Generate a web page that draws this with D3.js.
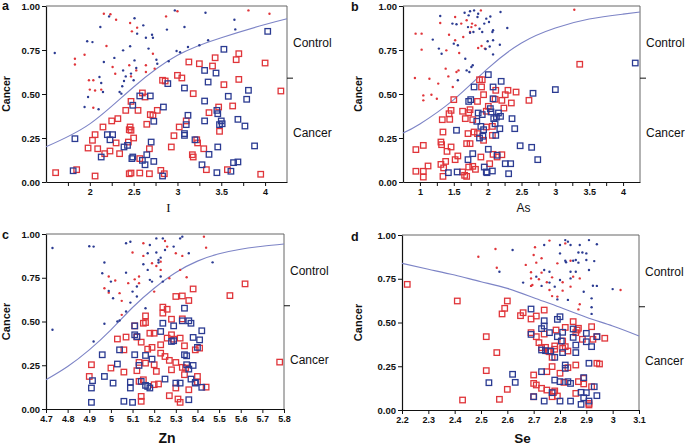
<!DOCTYPE html>
<html><head><meta charset="utf-8">
<script src="https://cdn.jsdelivr.net/npm/d3@7"></script>
<style>body{margin:0;background:#fff;} svg{display:block;} text{font-family:"Liberation Sans",Arial,sans-serif;}</style>
</head><body><svg id="chart" width="685" height="445"></svg>
<script>
// ---------- shared ticks ----------
const yTicks = [0, 0.25, 0.5, 0.75, 1];
const yTickLabels = ["0.00", "0.25", "0.50", "0.75", "1.00"];
const groupLabels = ["Control", "Cancer"];
const groupLabelPos = [0.79, 0.28];
const groupDivider = 0.59;

// ---------- panel a (I) ----------
const aXTicks = [1.75, 2, 2.25, 2.5, 2.75, 3, 3.25, 3.5, 3.75, 4];
const aXTickLabels = ["", "2", "", "2.5", "", "3", "", "3.5", "", "4"];
const aControlRed = [[2.16,0.956],[2.235,0.953],[2.30,0.922],[2.46,0.903],[2.54,0.877],[2.48,0.856],[2.87,0.941],[3.0,0.97],[3.81,0.975],[4.05,0.956],[2.19,0.773],[1.83,0.70],[1.83,0.668],[1.94,0.723],[2.26,0.653],[2.29,0.615],[2.45,0.663],[2.53,0.634],[2.64,0.663],[2.64,0.625],[2.72,0.729],[2.74,0.644],[1.99,0.578],[2.04,0.578],[2.0,0.525],[2.06,0.52],[2.13,0.525],[2.04,0.422],[2.47,0.60]];
const aControlBlue = [[1.60,0.733],[1.97,0.80],[2.03,0.795],[2.12,0.881],[2.22,0.941],[2.51,0.93],[2.61,0.89],[2.54,0.843],[2.71,0.837],[2.72,0.82],[2.64,0.82],[2.88,0.866],[2.97,0.975],[3.08,0.881],[3.32,0.962],[3.65,0.922],[3.66,0.867],[3.35,0.805],[3.25,0.777],[3.12,0.767],[2.99,0.744],[3.03,0.737],[2.90,0.686],[2.76,0.695],[2.77,0.672],[2.67,0.758],[2.46,0.771],[2.38,0.748],[2.16,0.682],[2.28,0.705],[2.11,0.597],[2.13,0.5625],[2.15,0.511],[1.98,0.483],[1.94,0.426],[2.10,0.413],[2.38,0.634],[2.41,0.60],[2.39,0.574],[2.50,0.578],[2.53,0.648],[2.51,0.691],[2.34,0.511],[2.36,0.502],[2.37,0.544],[2.47,0.616]];
const aCancerRed = [[1.61,0.053],[1.85,0.07],[2.06,0.034],[1.98,0.193],[2.03,0.237],[2.06,0.269],[2.09,0.189],[2.15,0.3125],[2.17,0.161],[2.23,0.176],[2.25,0.347],[2.30,0.222],[2.32,0.36],[2.34,0.161],[2.41,0.407],[2.44,0.227],[2.45,0.297],[2.46,0.3125],[2.47,0.458],[2.47,0.294],[2.45,0.047],[2.47,0.051],[2.50,0.25],[2.55,0.407],[2.57,0.133],[2.57,0.051],[2.60,0.506],[2.63,0.483],[2.65,0.328],[2.68,0.189],[2.68,0.047],[2.69,0.383],[2.72,0.379],[2.77,0.407],[2.83,0.578],[2.86,0.574],[2.81,0.066],[2.85,0.047],[2.93,0.199],[2.96,0.263],[3.0,0.606],[3.05,0.591],[3.02,0.3125],[3.10,0.347],[3.13,0.682],[3.18,0.502],[3.17,0.155],[3.18,0.142],[3.22,0.24],[3.23,0.222],[3.25,0.672],[3.30,0.189],[3.33,0.07],[3.36,0.394],[3.40,0.659],[3.43,0.706],[3.47,0.426],[3.48,0.288],[3.53,0.553],[3.63,0.432],[3.67,0.695],[3.70,0.729],[3.70,0.583],[3.57,0.07],[3.95,0.044],[4.0,0.676],[4.18,0.517]];
const aCancerBlue = [[1.81,0.064],[1.83,0.246],[2.13,0.142],[2.20,0.269],[2.23,0.24],[2.26,0.269],[2.39,0.199],[2.43,0.208],[2.48,0.133],[2.49,0.142],[2.49,0.436],[2.57,0.489],[2.60,0.123],[2.63,0.098],[2.65,0.155],[2.69,0.489],[2.70,0.227],[2.73,0.117],[2.73,0.345],[2.84,0.426],[2.83,0.034],[2.89,0.559],[3.08,0.534],[3.08,0.275],[3.08,0.265],[3.10,0.326],[3.12,0.379],[3.20,0.24],[3.28,0.098],[3.31,0.347],[3.31,0.46],[3.31,0.634],[3.35,0.568],[3.36,0.157],[3.44,0.619],[3.45,0.407],[3.46,0.388],[3.46,0.199],[3.45,0.053],[3.48,0.326],[3.50,0.347],[3.51,0.331],[3.53,0.754],[3.58,0.487],[3.61,0.061],[3.64,0.11],[3.69,0.114],[3.69,0.356],[3.77,0.318],[3.79,0.47],[3.81,0.521],[3.88,0.205],[4.03,0.856]];
const aCurve = [[1.5,0.20],[2.0,0.33],[2.5,0.54],[3.0,0.72],[3.5,0.82],[4.0,0.895],[4.25,0.928]];

// ---------- panel b (As) ----------
const bXTicks = [1, 1.25, 1.5, 1.75, 2, 2.25, 2.5, 2.75, 3, 3.25, 3.5, 3.75, 4];
const bXTickLabels = ["1", "", "1.5", "", "2", "", "2.5", "", "3", "", "3.5", "", "4"];
const bControlRed = [[0.936,0.843],[1.025,0.843],[1.025,0.752],[0.926,0.591],[1.05,0.492],[1.05,0.464],[1.14,0.587],[1.17,0.496],[1.25,0.473],[1.27,0.559],[1.30,0.903],[1.39,0.748],[1.38,0.644],[1.42,0.60],[1.43,0.837],[1.485,0.54],[1.52,0.9375],[1.52,0.805],[1.54,0.625],[1.57,0.634],[1.58,0.733],[1.61,0.90],[1.64,0.824],[1.69,0.919],[1.74,0.852],[1.77,0.90],[1.76,0.88],[1.82,0.89],[1.86,0.761],[1.90,0.975],[1.91,0.773],[1.96,0.758],[3.28,0.979]];
const bControlBlue = [[1.30,0.943],[1.19,0.809],[1.28,0.758],[1.32,0.729],[1.48,0.90],[1.54,0.896],[1.50,0.786],[1.56,0.777],[1.56,0.578],[1.66,0.962],[1.72,0.947],[1.74,0.97],[1.80,0.975],[1.71,0.88],[1.74,0.848],[1.79,0.852],[1.85,0.9375],[1.86,0.956],[1.88,0.871],[1.92,0.852],[1.95,0.90],[1.98,0.928],[2.02,0.909],[2.04,0.94],[2.07,0.852],[2.08,0.862],[2.08,0.805],[2.0,0.80],[2.03,0.77],[1.97,0.756],[2.08,0.725],[2.19,0.966],[2.18,0.78],[2.29,0.875],[1.67,0.70],[1.76,0.653],[1.78,0.663],[1.73,0.625],[1.69,0.634]];
const bCancerRed = [[0.94,0.184],[0.94,0.061],[1.05,0.208],[1.05,0.061],[1.05,0.028],[1.12,0.091],[1.31,0.227],[1.31,0.10],[1.32,0.212],[1.33,0.354],[1.34,0.284],[1.34,0.032],[1.35,0.08],[1.38,0.117],[1.40,0.174],[1.43,0.388],[1.44,0.356],[1.46,0.407],[1.46,0.199],[1.52,0.127],[1.50,0.468],[1.56,0.148],[1.63,0.402],[1.63,0.057],[1.66,0.038],[1.69,0.032],[1.67,0.36],[1.69,0.218],[1.71,0.275],[1.72,0.394],[1.72,0.085],[1.74,0.411],[1.74,0.218],[1.78,0.089],[1.78,0.354],[1.80,0.284],[1.82,0.072],[1.85,0.458],[1.85,0.275],[1.88,0.581],[1.90,0.142],[1.91,0.54],[1.92,0.581],[1.94,0.496],[1.94,0.237],[1.98,0.402],[1.98,0.3125],[2.01,0.43],[2.03,0.104],[2.07,0.316],[2.07,0.265],[2.08,0.157],[2.11,0.47],[2.12,0.521],[2.14,0.142],[2.21,0.155],[2.21,0.464],[2.24,0.42],[2.26,0.496],[2.30,0.521],[2.35,0.449],[2.42,0.511],[2.61,0.464],[3.36,0.669]];
const bCancerBlue = [[1.42,0.053],[1.54,0.294],[1.55,0.057],[1.71,0.127],[1.72,0.458],[1.75,0.468],[1.78,0.161],[1.80,0.54],[1.84,0.345],[1.86,0.392],[1.88,0.25],[1.90,0.316],[1.92,0.383],[1.93,0.26],[1.94,0.297],[1.95,0.085],[1.98,0.057],[1.99,0.053],[2.01,0.61],[2.01,0.186],[2.04,0.417],[2.05,0.398],[2.07,0.0625],[2.08,0.473],[2.08,0.54],[2.09,0.36],[2.11,0.331],[2.12,0.265],[2.13,0.369],[2.14,0.152],[2.16,0.392],[2.18,0.303],[2.19,0.373],[2.20,0.572],[2.26,0.104],[2.31,0.047],[2.34,0.104],[2.36,0.36],[2.40,0.303],[2.48,0.206],[2.65,0.197],[2.67,0.504],[2.74,0.127],[3.0,0.525],[4.18,0.676]];
const bCurve = [[0.75,0.278],[1.0,0.33],[1.5,0.468],[2.0,0.644],[2.5,0.79],[3.0,0.875],[3.5,0.926],[4.0,0.954],[4.25,0.966]];

// ---------- panel c (Zn) ----------
const cXTicks = [4.7, 4.8, 4.9, 5, 5.1, 5.2, 5.3, 5.4, 5.5, 5.6, 5.7, 5.8];
const cXTickLabels = ["4.7", "4.8", "4.9", "5", "5.1", "5.2", "5.3", "5.4", "5.5", "5.6", "5.7", "5.8"];
const cControlRed = [[4.99,0.757],[5.02,0.734],[4.97,0.69],[4.99,0.665],[5.04,0.662],[5.05,0.618],[5.05,0.538],[5.08,0.719],[5.10,0.894],[5.11,0.741],[5.13,0.757],[5.13,0.719],[5.15,0.875],[5.15,0.947],[5.19,0.833],[5.20,0.671],[5.21,0.817],[5.23,0.795],[5.23,0.842],[5.25,0.96],[5.26,0.928],[5.27,0.747],[5.30,0.89],[5.32,0.795],[5.33,0.875],[5.35,0.753],[5.43,0.985],[5.44,0.922]];
const cControlBlue = [[4.73,0.92],[4.73,0.4525],[4.90,0.93],[4.92,0.928],[4.97,0.837],[4.96,0.776],[4.97,0.487],[5.00,0.728],[4.99,0.675],[5.01,0.633],[5.03,0.5],[5.04,0.506],[4.92,0.386],[5.07,0.557],[5.07,0.779],[5.10,0.671],[5.07,0.947],[5.09,0.956],[5.09,0.608],[5.12,0.643],[5.12,0.70],[5.15,0.827],[5.16,0.576],[5.17,0.89],[5.18,0.937],[5.18,0.738],[5.19,0.728],[5.21,0.975],[5.21,0.894],[5.22,0.852],[5.22,0.837],[5.23,0.865],[5.23,0.757],[5.24,0.728],[5.24,0.975],[5.25,0.909],[5.29,0.928],[5.32,0.975],[5.33,0.985],[5.36,0.89],[5.47,0.838],[5.17,0.795]];
const cCancerRed = [[4.90,0.186],[4.91,0.253],[5.0,0.234],[5.03,0.40],[5.06,0.338],[5.06,0.211],[5.07,0.411],[5.11,0.475],[5.12,0.411],[5.12,0.219],[5.13,0.158],[5.13,0.266],[5.14,0.382],[5.14,0.072],[5.14,0.044],[5.15,0.49],[5.15,0.167],[5.16,0.262],[5.16,0.532],[5.16,0.494],[5.17,0.342],[5.18,0.433],[5.19,0.352],[5.20,0.433],[5.20,0.139],[5.20,0.253],[5.21,0.215],[5.22,0.143],[5.23,0.367],[5.23,0.319],[5.24,0.582],[5.24,0.548],[5.25,0.30],[5.26,0.57],[5.26,0.405],[5.27,0.278],[5.27,0.076],[5.28,0.513],[5.28,0.424],[5.28,0.224],[5.29,0.399],[5.30,0.266],[5.30,0.643],[5.30,0.12],[5.31,0.057],[5.32,0.038],[5.32,0.405],[5.33,0.515],[5.33,0.646],[5.33,0.238],[5.34,0.196],[5.34,0.361],[5.345,0.234],[5.36,0.11],[5.36,0.62],[5.38,0.686],[5.39,0.338],[5.40,0.154],[5.40,0.186],[5.41,0.348],[5.44,0.125],[5.55,0.648],[5.62,0.715],[5.78,0.268]];
const cCancerBlue = [[4.91,0.12],[4.91,0.038],[4.915,0.162],[4.96,0.31],[4.97,0.186],[5.01,0.148],[5.03,0.257],[5.04,0.338],[5.06,0.044],[5.09,0.154],[5.09,0.12],[5.10,0.038],[5.11,0.475],[5.11,0.424],[5.12,0.414],[5.11,0.31],[5.13,0.249],[5.14,0.158],[5.16,0.306],[5.16,0.135],[5.17,0.129],[5.18,0.12],[5.19,0.285],[5.23,0.443],[5.24,0.49],[5.25,0.171],[5.28,0.386],[5.29,0.475],[5.29,0.39],[5.30,0.148],[5.32,0.148],[5.33,0.504],[5.34,0.576],[5.34,0.31],[5.35,0.304],[5.35,0.253],[5.36,0.053],[5.36,0.228],[5.36,0.504],[5.37,0.171],[5.37,0.49],[5.38,0.249],[5.38,0.409],[5.39,0.148],[5.39,0.152],[5.40,0.352],[5.41,0.395],[5.42,0.124],[5.42,0.447]];
const cCurve = [[4.7,0.167],[4.8,0.243],[4.9,0.338],[5.0,0.452],[5.1,0.58],[5.2,0.69],[5.3,0.78],[5.4,0.845],[5.5,0.887],[5.6,0.913],[5.7,0.93],[5.8,0.943]];

// ---------- panel d (Se) ----------
const dXTicks = [2.2, 2.3, 2.4, 2.5, 2.6, 2.7, 2.8, 2.9, 3, 3.1];
const dXTickLabels = ["2.2", "2.3", "2.4", "2.5", "2.6", "2.7", "2.8", "2.9", "3", "3.1"];
const dControlRed = [[2.49,0.876],[2.555,0.92],[2.56,0.813],[2.67,0.829],[2.69,0.752],[2.69,0.709],[2.695,0.714],[2.69,0.787],[2.70,0.886],[2.705,0.93],[2.71,0.842],[2.72,0.747],[2.73,0.867],[2.73,0.785],[2.76,0.968],[2.75,0.73],[2.76,0.686],[2.77,0.758],[2.77,0.651],[2.79,0.648],[2.79,0.838],[2.81,0.682],[2.81,0.73],[2.82,0.952],[2.84,0.853],[2.84,0.705],[2.85,0.762],[2.875,0.604],[2.87,0.575],[2.875,0.752],[3.03,0.686]];
const dControlBlue = [[2.57,0.79],[2.62,0.914],[2.66,0.728],[2.71,0.762],[2.73,0.709],[2.74,0.943],[2.74,0.80],[2.76,0.79],[2.76,0.728],[2.78,0.705],[2.79,0.632],[2.80,0.943],[2.80,0.895],[2.80,0.743],[2.82,0.853],[2.823,0.844],[2.82,0.971],[2.83,0.962],[2.84,0.943],[2.83,0.629],[2.84,0.752],[2.84,0.79],[2.85,0.853],[2.86,0.857],[2.87,0.90],[2.86,0.79],[2.87,0.842],[2.875,0.943],[2.885,0.90],[2.89,0.676],[2.90,0.895],[2.90,0.857],[2.91,0.80],[2.91,0.971],[2.92,0.638],[2.92,0.587],[2.92,0.549],[2.925,0.71],[2.93,0.851],[2.94,0.709],[2.94,0.947],[3.0,0.691]];
const dCancerRed = [[2.22,0.718],[2.41,0.623],[2.43,0.057],[2.52,0.419],[2.52,0.225],[2.56,0.328],[2.57,0.061],[2.58,0.549],[2.59,0.581],[2.60,0.118],[2.60,0.623],[2.65,0.539],[2.66,0.556],[2.69,0.52],[2.69,0.442],[2.70,0.20],[2.70,0.152],[2.70,0.076],[2.71,0.419],[2.71,0.143],[2.71,0.537],[2.72,0.385],[2.73,0.124],[2.73,0.356],[2.74,0.434],[2.74,0.571],[2.745,0.358],[2.75,0.219],[2.75,0.114],[2.755,0.337],[2.76,0.333],[2.77,0.301],[2.77,0.248],[2.77,0.076],[2.775,0.10],[2.78,0.366],[2.78,0.347],[2.785,0.457],[2.78,0.109],[2.79,0.08],[2.80,0.21],[2.81,0.394],[2.81,0.352],[2.815,0.158],[2.82,0.472],[2.82,0.362],[2.83,0.337],[2.83,0.242],[2.85,0.505],[2.86,0.095],[2.86,0.442],[2.865,0.457],[2.87,0.467],[2.86,0.257],[2.87,0.162],[2.885,0.404],[2.89,0.149],[2.89,0.181],[2.91,0.038],[2.91,0.029],[2.92,0.133],[2.92,0.476],[2.925,0.404],[2.94,0.419],[2.94,0.267],[2.95,0.263],[2.97,0.41]];
const dCancerBlue = [[2.53,0.156],[2.62,0.204],[2.63,0.158],[2.69,0.577],[2.69,0.432],[2.70,0.076],[2.73,0.343],[2.73,0.219],[2.73,0.465],[2.74,0.51],[2.74,0.48],[2.745,0.339],[2.74,0.051],[2.76,0.442],[2.765,0.337],[2.77,0.099],[2.78,0.171],[2.78,0.301],[2.79,0.419],[2.79,0.518],[2.80,0.051],[2.80,0.533],[2.80,0.162],[2.805,0.394],[2.81,0.444],[2.81,0.328],[2.82,0.257],[2.82,0.238],[2.83,0.162],[2.84,0.051],[2.84,0.152],[2.85,0.463],[2.85,0.415],[2.86,0.371],[2.86,0.328],[2.88,0.101],[2.88,0.032],[2.89,0.185],[2.89,0.07],[2.90,0.39],[2.90,0.438],[2.90,0.099],[2.91,0.267],[2.91,0.051],[2.92,0.362],[2.93,0.133],[2.94,0.419],[2.94,0.082]];
const dCurve = [[2.2,0.838],[2.3,0.804],[2.4,0.771],[2.5,0.733],[2.6,0.695],[2.7,0.642],[2.8,0.587],[2.9,0.53],[3.0,0.48],[3.1,0.423]];

// ---------- colours ----------
const RED = "#e0353a", BLUE = "#2b3b92", CURVE = "#7d84c6";

const panels = [
  {letter:"a", box:{l:46,r:287,t:6,b:182}, xDomain:[1.5,4.25], xTicks:aXTicks, xLabels:aXTickLabels,
   ctrlR:aControlRed, ctrlB:aControlBlue, canR:aCancerRed, canB:aCancerBlue, curve:aCurve,
   title:"I", titleFont:"'Liberation Serif','Times New Roman',serif", titleSize:13, titleWeight:"normal", titleY:212,
   ytitleX:10, ytitleSize:10.5, letterX:2, letterY:10, xLabelSize:9, xLabelWeight:"bold"},
  {letter:"b", box:{l:403,r:640,t:6,b:182}, xDomain:[0.75,4.25], xTicks:bXTicks, xLabels:bXTickLabels,
   ctrlR:bControlRed, ctrlB:bControlBlue, canR:bCancerRed, canB:bCancerBlue, curve:bCurve,
   title:"As", titleFont:"'Liberation Sans',Arial,sans-serif", titleSize:12, titleWeight:"normal", titleY:212,
   ytitleX:362, ytitleSize:10.5, letterX:351, letterY:11, xLabelSize:9, xLabelWeight:"bold"},
  {letter:"c", box:{l:46,r:284,t:234,b:409}, xDomain:[4.7,5.8], xTicks:cXTicks, xLabels:cXTickLabels,
   ctrlR:cControlRed, ctrlB:cControlBlue, canR:cCancerRed, canB:cCancerBlue, curve:cCurve,
   title:"Zn", titleFont:"'Liberation Sans',Arial,sans-serif", titleSize:14, titleWeight:"bold", titleY:443,
   ytitleX:10, ytitleSize:11, letterX:2, letterY:239, xLabelSize:9, xLabelWeight:"bold"},
  {letter:"d", box:{l:402,r:639,t:235,b:410}, xDomain:[2.2,3.1], xTicks:dXTicks, xLabels:dXTickLabels,
   ctrlR:dControlRed, ctrlB:dControlBlue, canR:dCancerRed, canB:dCancerBlue, curve:dCurve,
   title:"Se", titleFont:"'Liberation Sans',Arial,sans-serif", titleSize:13.5, titleWeight:"bold", titleY:443,
   ytitleX:362, ytitleSize:11, letterX:351, letterY:241, xLabelSize:9, xLabelWeight:"bold"}
];

const svg = d3.select("#chart");

panels.forEach(p => {
  const g = svg.append("g");
  const x = d3.scaleLinear().domain(p.xDomain).range([p.box.l, p.box.r]);
  const y = d3.scaleLinear().domain([0, 1]).range([p.box.b, p.box.t]);

  // frame (top & right)
  g.append("path")
    .attr("d", `M${p.box.l},${p.box.t}H${p.box.r}V${p.box.b}`)
    .attr("fill", "none").attr("stroke", "#666").attr("stroke-width", 1);

  // y axis
  const ya = g.append("g").attr("transform", `translate(${p.box.l},0)`)
    .call(d3.axisLeft(y).tickValues(yTicks).tickFormat((d, i) => yTickLabels[i]).tickSize(4).tickPadding(2).tickSizeOuter(0));
  ya.selectAll("text").attr("font-size", 9.5).attr("font-weight", "bold").attr("fill", "#111")
    .style("font-family", "'Liberation Sans',Arial,sans-serif");
  ya.select(".domain").attr("stroke", "#111").attr("stroke-width", 1.2);
  ya.selectAll(".tick line").attr("stroke", "#111");

  // x axis
  const xa = g.append("g").attr("transform", `translate(0,${p.box.b})`)
    .call(d3.axisBottom(x).tickValues(p.xTicks).tickFormat((d, i) => p.xLabels[i]).tickSize(4).tickPadding(3).tickSizeOuter(0));
  xa.selectAll("text").attr("font-size", p.xLabelSize).attr("font-weight", p.xLabelWeight).attr("fill", "#111")
    .style("font-family", "'Liberation Sans',Arial,sans-serif");
  xa.select(".domain").attr("stroke", "#111").attr("stroke-width", 1.2);
  xa.selectAll(".tick line").attr("stroke", "#111");

  // y title
  g.append("text").attr("transform", `translate(${p.ytitleX},${(p.box.t + p.box.b) / 2}) rotate(-90)`)
    .attr("text-anchor", "middle").attr("font-size", p.ytitleSize).attr("font-weight", "bold").attr("fill", "#111")
    .text("Cancer");

  // x title
  g.append("text").attr("x", (p.box.l + p.box.r) / 2 + 2).attr("y", p.titleY)
    .attr("text-anchor", "middle").attr("font-size", p.titleSize).attr("font-weight", p.titleWeight)
    .style("font-family", p.titleFont).attr("fill", "#111").text(p.title);

  // panel letter
  g.append("text").attr("x", p.letterX).attr("y", p.letterY).attr("font-size", 12.5)
    .attr("font-weight", "bold").attr("fill", "#111").text(p.letter);

  // right group labels and divider tick
  groupLabels.forEach((lab, i) => {
    g.append("text").attr("x", p.box.r + 6).attr("y", y(groupLabelPos[i]) + 4)
      .attr("font-size", 12).attr("fill", "#111").text(lab);
  });
  g.append("line").attr("x1", p.box.r).attr("x2", p.box.r + 6)
    .attr("y1", y(groupDivider)).attr("y2", y(groupDivider)).attr("stroke", "#111").attr("stroke-width", 1);

  // curve
  g.append("path").datum(p.curve)
    .attr("d", d3.line().x(d => x(d[0])).y(d => y(d[1])).curve(d3.curveNatural))
    .attr("fill", "none").attr("stroke", CURVE).attr("stroke-width", 1.1);

  // cancer squares
  const sq = 5.5;
  [[p.canR, RED], [p.canB, BLUE]].forEach(([arr, col]) => {
    g.append("g").selectAll("rect").data(arr).join("rect")
      .attr("x", d => x(d[0]) - sq / 2).attr("y", d => y(d[1]) - sq / 2)
      .attr("width", sq).attr("height", sq)
      .attr("fill", "none").attr("stroke", col).attr("stroke-width", 1.3);
  });

  // control dots
  [[p.ctrlR, RED], [p.ctrlB, BLUE]].forEach(([arr, col]) => {
    g.append("g").selectAll("circle").data(arr).join("circle")
      .attr("cx", d => x(d[0])).attr("cy", d => y(d[1])).attr("r", 1.2)
      .attr("fill", col);
  });
});
</script></body></html>
